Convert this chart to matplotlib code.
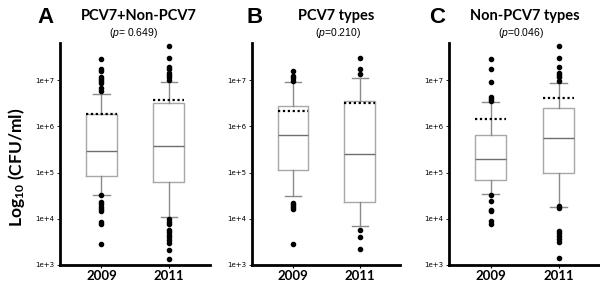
import numpy as np
import matplotlib
matplotlib.use("Agg")
import matplotlib.pyplot as plt

# ---------------------------------------------------------------------------
# data (CFU/ml)
years = ["2009", "2011"]
panel_letters = ["A", "B", "C"]
panel_titles = ["PCV7+Non-PCV7", "PCV7 types", "Non-PCV7 types"]
p_values = ["= 0.649", "=0.210", "=0.046"]

A_whislo = [3.3e4, 1.07e4]
A_q1 = [8.6e4, 6.3e4]
A_med = [3.0e5, 3.77e5]
A_q3 = [1.86e6, 3.16e6]
A_whishi = [5.0e6, 9.0e6]
A_mean = [1.86e6, 3.7e6]
A_fliers_2009 = [2.9e7, 1.7e7, 1.6e7, 1.15e7, 1.05e7, 9.6e6, 8.6e6, 6.6e6, 5.9e6,
                 3.2e4, 2.34e4, 2.05e4, 1.8e4, 1.6e4, 1.47e4, 8.7e3, 7.7e3, 2.8e3]
A_fliers_2011 = [5.6e7, 2.96e7, 1.9e7, 1.7e7, 1.4e7, 1.3e7, 1.15e7, 1.02e7,
                 9.8e3, 8.7e3, 7.7e3, 5.7e3, 5.1e3, 4.46e3, 3.98e3, 3.5e3, 3.03e3,
                 2.1e3, 1.37e3]

B_whislo = [3.1e4, 6.9e3]
B_q1 = [1.15e5, 2.3e4]
B_med = [6.4e5, 2.5e5]
B_q3 = [2.7e6, 3.6e6]
B_whishi = [8.9e6, 1.13e7]
B_mean = [2.2e6, 3.25e6]
B_fliers_2009 = [1.6e7, 1.2e7, 1.1e7, 9.8e6, 2.2e4, 1.96e4, 1.78e4, 1.63e4, 2.8e3]
B_fliers_2011 = [3.0e7, 1.7e7, 1.38e7, 5.8e3, 4.1e3, 2.2e3]

C_whislo = [3.4e4, 1.82e4]
C_q1 = [6.9e4, 9.8e4]
C_med = [1.95e5, 5.5e5]
C_q3 = [6.4e5, 2.45e6]
C_whishi = [3.3e6, 8.6e6]
C_mean = [1.47e6, 4.07e6]
C_fliers_2009 = [2.9e7, 1.78e7, 9.0e6, 4.3e6, 3.9e6, 3.55e6,
                 3.2e4, 2.4e4, 1.58e4, 1.5e4, 8.8e3, 7.8e3]
C_fliers_2011 = [5.6e7, 2.96e7, 1.9e7, 1.4e7, 1.28e7, 1.15e7, 9.6e6,
                 1.9e4, 1.7e4, 5.5e3, 4.9e3, 4.3e3, 3.7e3, 3.1e3, 1.4e3]

ytick_vals = [1e3, 1e4, 1e5, 1e6, 1e7]
ytick_labels = ["1e+3", "1e+4", "1e+5", "1e+6", "1e+7"]

panels = [
    (A_whislo, A_q1, A_med, A_q3, A_whishi, A_mean, [A_fliers_2009, A_fliers_2011]),
    (B_whislo, B_q1, B_med, B_q3, B_whishi, B_mean, [B_fliers_2009, B_fliers_2011]),
    (C_whislo, C_q1, C_med, C_q3, C_whishi, C_mean, [C_fliers_2009, C_fliers_2011]),
]

################################################################################
plt.rcParams["font.family"] = ["Lato", "DejaVu Sans"]
plt.rcParams["mathtext.fontset"] = "custom"
plt.rcParams["mathtext.rm"] = "Lato:bold"
plt.rcParams["mathtext.bf"] = "Lato:bold"
plt.rcParams["mathtext.it"] = "Liberation Sans:italic"

fig = plt.figure(figsize=(6.0, 2.84), dpi=100)

ax_rects = [
    [0.100, 0.067, 0.250, 0.782],
    [0.420, 0.067, 0.247, 0.782],
    [0.748, 0.067, 0.252, 0.782],
]
title_x = [0.232, 0.560, 0.875]
p_x = [0.222, 0.563, 0.868]
letter_x = [0.075, 0.425, 0.728]

for i, (wlo, q1, med, q3, whi, mean, fliers) in enumerate(panels):
    ax = fig.add_axes(ax_rects[i])
    stats = []
    for j in range(2):
        stats.append(dict(whislo=wlo[j], q1=q1[j], med=med[j], q3=q3[j],
                          whishi=whi[j], fliers=fliers[j], label=years[j]))
    ax.bxp(stats, positions=[1, 2], widths=0.46, capwidths=0.24,
           boxprops=dict(color="#a8a8a8", linewidth=1.0),
           medianprops=dict(color="#6e6e6e", linewidth=1.0),
           whiskerprops=dict(color="#8a8a8a", linewidth=1.0),
           capprops=dict(color="#8a8a8a", linewidth=1.0),
           flierprops=dict(marker="o", markerfacecolor="black",
                           markeredgecolor="black", markersize=3.0))
    # mean drawn as dotted line across the box
    ax.hlines(mean, [0.77, 1.77], [1.23, 2.23], colors="black",
              linestyles=(0, (1, 1.2)), linewidth=1.6, zorder=5)

    ax.set_yscale("log")
    ax.set_ylim(1e3, 6.4e7)
    ax.set_xlim(0.385, 2.61)
    ax.set_yticks(ytick_vals)
    ax.set_yticklabels(ytick_labels, fontsize=5, family="DejaVu Sans")
    ax.minorticks_off()
    ax.set_xticks([1, 2])
    ax.set_xticklabels(years, fontsize=9.5, fontweight="bold")
    ax.tick_params(axis="x", length=2.5, width=0.8, pad=1)
    ax.tick_params(axis="y", length=2, width=0.6, pad=2)
    for s in ["top", "right"]:
        ax.spines[s].set_visible(False)
    for s in ["left", "bottom"]:
        ax.spines[s].set_linewidth(2.0)

    fig.text(letter_x[i], 0.94, panel_letters[i], fontsize=16, fontweight="bold",
             family="Liberation Sans", ha="center", va="center")
    fig.text(title_x[i], 0.945, panel_titles[i], fontsize=10.5, fontweight="bold",
             ha="center", va="center")
    fig.text(p_x[i], 0.884, "(" + r"$\mathit{p}$" + p_values[i] + ")",
             fontsize=7.5, family="Liberation Sans", ha="center", va="center")

fig.text(0.028, 0.41, r"Log$_{\mathbf{10}}$ (CFU/ml)", fontsize=12.5,
         fontweight="bold", rotation=90, ha="center", va="center")

fig.savefig("out.png", dpi=100)
